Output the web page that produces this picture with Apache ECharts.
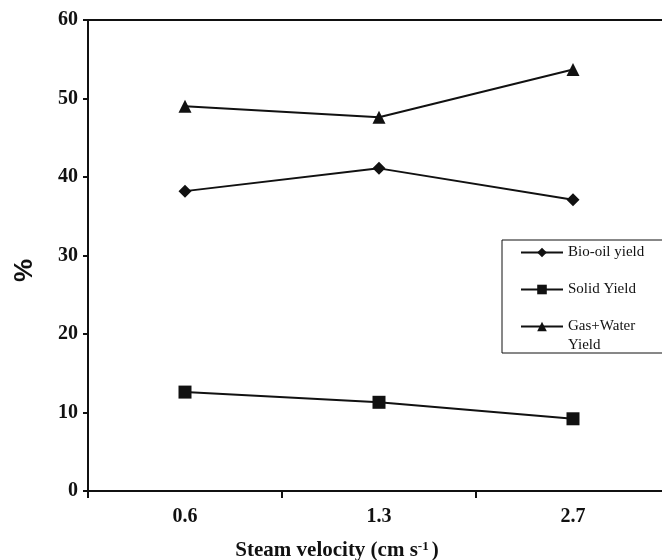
<!DOCTYPE html>
<html>
<head>
<meta charset="utf-8">
<script src="https://cdn.jsdelivr.net/npm/echarts@6/dist/echarts.min.js"></script>
<style>
  html, body { margin: 0; padding: 0; background: #fff; }
  #chart { width: 662px; height: 560px; }
</style>
</head>
<body>
<div id="chart"></div>
<script>
// steam velocity (cm s-1)
var velocities = ['0.6', '1.3', '2.7'];

var bioOil = [38.2, 41.1, 37.1];
var solid = [12.6, 11.3, 9.2];
var gasWater = [49.0, 47.6, 53.7];

var yTicks = { min: 0, max: 60, interval: 10 };

var INK = '#111';
var SERIF = '"Liberation Serif", "Times New Roman", serif';

var chart = echarts.init(document.getElementById('chart'));

function lineSeries(name, data, symbol, size) {
	return {
		name: name,
		type: 'line',
		data: data,
		symbol: symbol,
		symbolSize: size,
		itemStyle: { color: INK },
		lineStyle: { color: INK, width: 2 },
		emphasis: { disabled: true },
		animation: false
	};
}

var opt = {
	backgroundColor: '#fff',
	grid: {
		left: 88,
		top: 20,
		width: 582,
		height: 471,
		outerBoundsMode: 'none',
		show: true,
		borderColor: INK,
		borderWidth: 2
	},
	xAxis: {
		type: 'category',
		data: velocities,
		boundaryGap: true,
		axisLine: { lineStyle: { color: INK, width: 2 } },
		axisTick: { show: true, length: 7, lineStyle: { color: INK, width: 2 } },
		axisLabel: { color: INK, fontFamily: SERIF, fontWeight: 'bold', fontSize: 20, margin: 16 },
		splitLine: { show: false },
		name: '{t|Steam velocity (cm s}{sup|-1}{t|)}',
		nameLocation: 'middle',
		nameGap: 49,
		nameTextStyle: {
			padding: [0, 84, 0, 0],
			rich: {
				t: { color: INK, fontFamily: SERIF, fontWeight: 'bold', fontSize: 21 },
				sup: { color: INK, fontFamily: SERIF, fontWeight: 'bold', fontSize: 13, verticalAlign: 'top', padding: [0, 3, 8, 0] }
			}
		}
	},
	yAxis: {
		type: 'value',
		min: yTicks.min,
		max: yTicks.max,
		interval: yTicks.interval,
		axisLine: { show: true, lineStyle: { color: INK, width: 2 } },
		axisTick: { show: true, length: 5, lineStyle: { color: INK, width: 2 } },
		axisLabel: { color: INK, fontFamily: SERIF, fontWeight: 'bold', fontSize: 20, margin: 10 },
		splitLine: { show: false },
		name: '%',
		nameLocation: 'middle',
		nameGap: 50,
		nameTextStyle: {
			color: INK,
			fontFamily: '"Liberation Sans", Arial, sans-serif',
			fontWeight: 'bold',
			fontSize: 26,
			padding: [0, 30, 0, 0]
		}
	},
	legend: {
		orient: 'vertical',
		left: 502,
		top: 240,
		// every label is three lines tall (blank lines around it) so the
		// symbol always sits on the first text line; gap/padding pull it back in
		padding: [-16, 60, -2, 18],
		borderColor: INK,
		borderWidth: 1,
		backgroundColor: '#fff',
		itemWidth: 42,
		itemHeight: 12,
		itemGap: -20,
		selectedMode: false,
		textStyle: { color: INK, fontFamily: SERIF, fontSize: 15, lineHeight: 19 },
		formatter: function(name) {
			if (name == 'Gas+Water Yield') return '\nGas+Water\nYield';
			return '\n' + name + '\n';
		},
		data: ['Bio-oil yield', 'Solid Yield', 'Gas+Water Yield']
	},
	series: [
		lineSeries('Bio-oil yield', bioOil, 'diamond', 13),
		lineSeries('Solid Yield', solid, 'rect', 13),
		lineSeries('Gas+Water Yield', gasWater, 'triangle', 13)
	]
};

chart.setOption(opt);
</script>
</body>
</html>
